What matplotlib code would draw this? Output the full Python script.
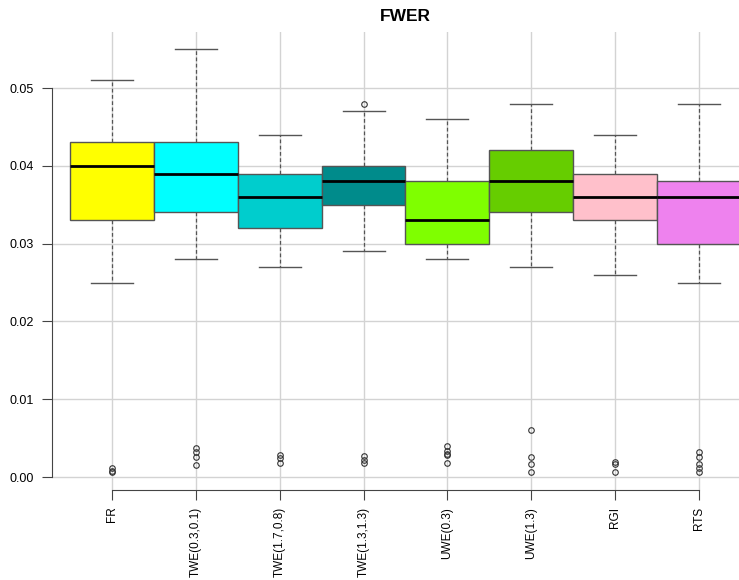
import numpy as np
import matplotlib
matplotlib.use('Agg')
import matplotlib.pyplot as plt

plt.rcParams['font.family'] = ['Liberation Sans', 'DejaVu Sans']

labels = ['FR', 'TWE(0.3,0.1)', 'TWE(1.7,0.8)', 'TWE(1.3,1.3)', 'UWE(0.3)', 'UWE(1.3)', 'RGI', 'RTS']
whislo = [0.025, 0.028, 0.027, 0.029, 0.028, 0.027, 0.026, 0.025]
q1 = [0.033, 0.034, 0.032, 0.035, 0.030, 0.034, 0.033, 0.030]
med = [0.040, 0.039, 0.036, 0.038, 0.033, 0.038, 0.036, 0.036]
q3 = [0.043, 0.043, 0.039, 0.040, 0.038, 0.042, 0.039, 0.038]
whishi = [0.051, 0.055, 0.044, 0.047, 0.046, 0.048, 0.044, 0.048]
fliers = [
    [0.0006, 0.0008, 0.0011],
    [0.0037, 0.0032, 0.0026, 0.0015],
    [0.0028, 0.0024, 0.0018],
    [0.0027, 0.0022, 0.0018, 0.048],
    [0.0040, 0.0033, 0.0030, 0.0028, 0.0018],
    [0.0060, 0.0026, 0.0017, 0.0007],
    [0.0019, 0.0017, 0.0006],
    [0.0032, 0.0026, 0.0017, 0.0012, 0.0007],
]
colors = ['#FFFF00', '#00FFFF', '#00CDCD', '#008B8B', '#7FFF00', '#66CD00', '#FFC0CB', '#EE82EE']

stats = []
for i in range(len(labels)):
    stats.append(dict(whislo=whislo[i], q1=q1[i], med=med[i], q3=q3[i],
                      whishi=whishi[i], fliers=fliers[i], label=labels[i]))

fig = plt.figure(figsize=(7.39, 5.8), dpi=100)
ax = fig.add_axes([52/739, 90/580, 687/739, 458/580])
pos = np.arange(1, len(labels) + 1)

ax.grid(True, color='#d3d3d3', lw=1)
ax.set_axisbelow(True)

bp = ax.bxp(stats, positions=pos, widths=1.0, patch_artist=True,
            boxprops=dict(edgecolor='#555555', lw=1),
            medianprops=dict(color='black', lw=2),
            whiskerprops=dict(color='#555555', lw=0.9, ls=(0, (3, 2))),
            capprops=dict(color='#555555', lw=1),
            capwidths=0.5,
            flierprops=dict(marker='o', markersize=4, markerfacecolor='none',
                            markeredgecolor='#333333', markeredgewidth=0.8))
for patch, c in zip(bp['boxes'], colors):
    patch.set_facecolor(c)

ax.set_xlim(1 - 60/83.86, 8 + 40/83.86)
ax.set_ylim(-0.00167, 0.0572)
ax.set_yticks([0.0, 0.01, 0.02, 0.03, 0.04, 0.05])
ax.set_yticklabels(['0.00', '0.01', '0.02', '0.03', '0.04', '0.05'])
ax.set_xticks(pos)
ax.set_xticklabels(labels, rotation=90)

for s in ['top', 'right']:
    ax.spines[s].set_visible(False)
ax.spines['left'].set_bounds(0, 0.05)
ax.spines['bottom'].set_bounds(1, 8)
ax.spines['left'].set_color('#444444')
ax.spines['bottom'].set_color('#444444')
ax.tick_params(axis='both', length=7, color='#444444')
ax.tick_params(axis='y', pad=6, labelsize=9)
ax.tick_params(axis='x', pad=5, labelsize=8.5)

ax.set_title('FWER', fontsize=12.5, fontweight='bold', pad=8, x=0.514)

fig.savefig('out.png', dpi=100)
